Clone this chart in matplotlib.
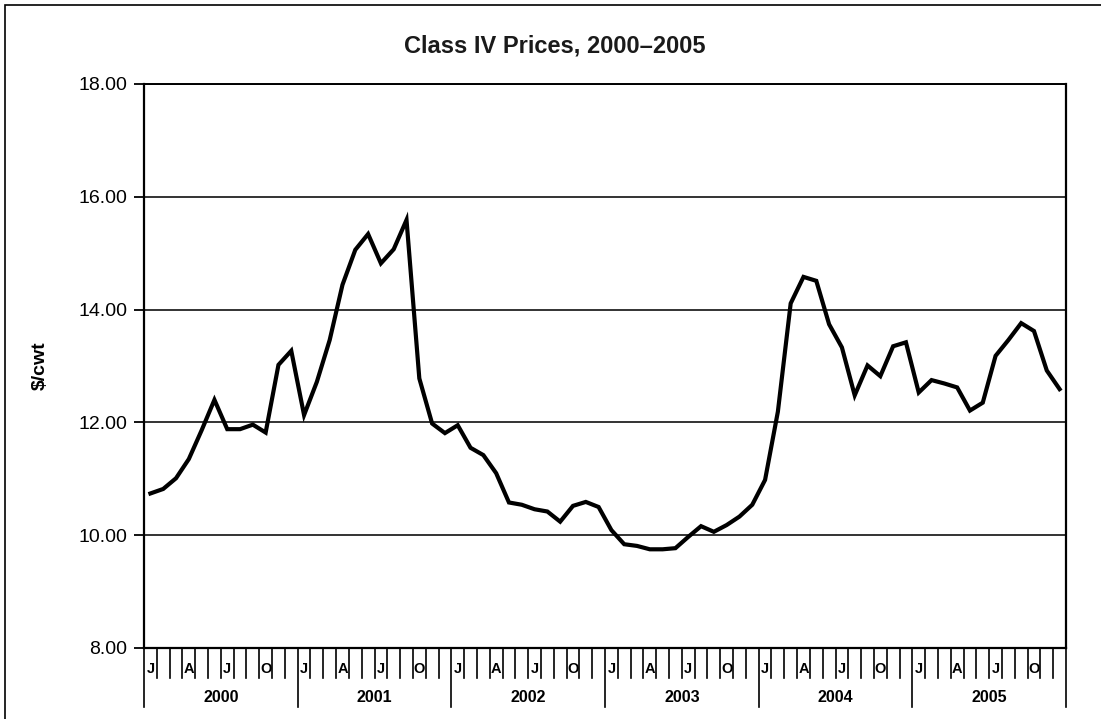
'''
Class IV milk prices 2000-2005, line chart with a two level month/year axis
'''
import matplotlib
matplotlib.use('Agg')
import matplotlib.pyplot as plt
import matplotlib.transforms as mtransforms
from matplotlib.patches import Rectangle
import numpy as np

years = ['2000', '2001', '2002', '2003', '2004', '2005']
month_letters = ['J', '', '', 'A', '', '', 'J', '', '', 'O', '', '']

prices_2000 = [10.74, 10.82, 11.01, 11.35, 11.86, 12.40, 11.88, 11.88, 11.96, 11.82, 13.02, 13.27]
prices_2001 = [12.13, 12.72, 13.46, 14.44, 15.06, 15.34, 14.82, 15.07, 15.59, 12.78, 11.98, 11.81]
prices_2002 = [11.95, 11.55, 11.42, 11.10, 10.58, 10.54, 10.46, 10.42, 10.24, 10.52, 10.59, 10.50]
prices_2003 = [10.09, 9.84, 9.81, 9.75, 9.75, 9.77, 9.97, 10.16, 10.06, 10.18, 10.33, 10.54]
prices_2004 = [10.98, 12.19, 14.11, 14.58, 14.51, 13.74, 13.33, 12.48, 13.01, 12.82, 13.35, 13.42]
prices_2005 = [12.53, 12.75, 12.69, 12.62, 12.21, 12.35, 13.18, 13.46, 13.76, 13.62, 12.92, 12.59]

y_ticks = [8, 10, 12, 14, 16, 18]

plt.rcParams['font.family'] = ['Liberation Sans', 'DejaVu Sans']

prices = prices_2000 + prices_2001 + prices_2002 + prices_2003 + prices_2004 + prices_2005
n = len(prices)
X = np.arange(n) + 0.5

fig = plt.figure(figsize=(11.01, 7.19), dpi=100)
ax = fig.add_axes([144/1101, 1 - 648/719, (1066 - 144)/1101, (648 - 84)/719])

ax.plot(X, prices, color='black', linewidth=3, solid_joinstyle='miter', zorder=3)

ax.set_xlim(0, n)
ax.set_ylim(8, 18)
ax.set_yticks(y_ticks)
ax.set_yticklabels(['%.2f' % v for v in y_ticks], fontsize=14)
ax.tick_params(axis='y', length=7, width=1.3, pad=5, colors='black')
ax.set_xticks([])
ax.yaxis.grid(True, color='#333333', linewidth=1.4)
ax.set_axisbelow(True)
for s in ['left', 'right', 'bottom']:
    ax.spines[s].set_linewidth(1.6)
ax.spines['top'].set_linewidth(1.4)

ax.set_ylabel('$/cwt', fontsize=14, fontweight='bold')
ax.yaxis.set_label_coords(-0.103, 0.5)

# category axis: month cells and year groups
tr = mtransforms.blended_transform_factory(ax.transData, ax.transAxes)
month_bottom = -30/564
year_bottom = -59/564
for k in range(n + 1):
    if k % 12 == 0:
        ax.plot([k, k], [0, year_bottom], color='black', lw=1.2, transform=tr, clip_on=False)
    else:
        ax.plot([k, k], [0, month_bottom], color='black', lw=1.2, transform=tr, clip_on=False)
for i in range(n):
    lab = month_letters[i % 12]
    if lab:
        ax.text(X[i], -21/564, lab, transform=tr, ha='center', va='center',
                fontsize=10.5, fontweight='bold')
for j, yr in enumerate(years):
    ax.text(12*j + 6, -50/564, yr, transform=tr, ha='center', va='center',
            fontsize=11.5, fontweight='bold')

fig.text(0.504, 1 - 46/719, 'Class IV Prices, 2000\u20132005', ha='center', va='center',
         fontsize=17, fontweight='bold', color='#1a1a1a')

# outer chart border
fig.add_artist(Rectangle((5/1101, -0.1), 1.2, 1.1 - 5/719, transform=fig.transFigure,
                         fill=False, edgecolor='black', linewidth=1.2))

fig.savefig('out.png', dpi=100)
